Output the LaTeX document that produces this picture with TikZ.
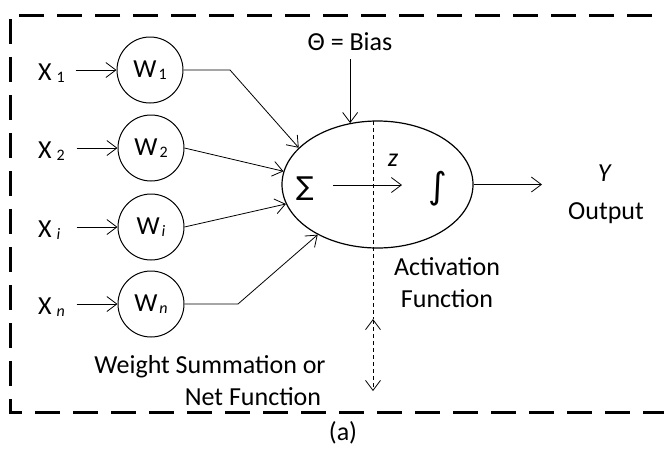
\documentclass[tikz,border=0pt]{standalone}
\usepackage{fontspec}
\setmainfont{Carlito}
\newfontfamily\symfont{DejaVu Sans}
\usetikzlibrary{arrows.meta,shapes.geometric,calc}
\newcommand{\sbs}[1]{\raisebox{-2.5pt}{\fontsize{16}{16}\selectfont #1}}
\begin{document}
\begin{tikzpicture}[x=1pt,y=-1pt,
  lbl/.style={inner sep=0pt, font=\fontsize{26}{30}\selectfont},
  wcirc/.style={circle, draw, line width=1pt, minimum size=66pt, inner sep=0pt, font=\fontsize{26}{30}\selectfont},
  conn/.style={line width=0.8pt, -{Straight Barb[length=10pt,width=15pt,line width=0.8pt]}},
  frame/.style={line width=3pt, dash pattern=on 25pt off 13pt},
  vdash/.style={line width=1pt, dash pattern=on 4pt off 3pt}]
\useasboundingbox (0,0) rectangle (664,448);
\clip (0,0) rectangle (664,448);
% frame
\draw[frame] (690,15) -- (10,15) -- (10,412) -- (690,412);
% weights
\node[wcirc] (w1) at (150,70) {W\hspace{2pt}\sbs{1}};
\node[wcirc] (w2) at (151,148) {W\hspace{2pt}\sbs{2}};
\node[wcirc] (wi) at (151,227) {W\hspace{2pt}\sbs{\textit{i}}};
\node[wcirc] (wn) at (151,304) {W\hspace{2pt}\sbs{\textit{n}}};
% inputs
\node[lbl, anchor=base west] (x1) at (38,80) {X\hspace{5pt}\sbs{1}};
\node[lbl, anchor=base west] (x2) at (38,158) {X\hspace{5pt}\sbs{2}};
\node[lbl, anchor=base west] (xi) at (38,237) {X\hspace{5pt}\sbs{\textit{i}}};
\node[lbl, anchor=base west] (xn) at (38,314) {X\hspace{5pt}\sbs{\textit{n}}};
\draw[conn] ($(w1.west)-(41,0)$) -- (w1.west);
\draw[conn] ($(w2.west)-(41,0)$) -- (w2.west);
\draw[conn] ($(wi.west)-(41,0)$) -- (wi.west);
\draw[conn] ($(wn.west)-(41,0)$) -- (wn.west);
% neuron
\node[ellipse, draw, line width=1.2pt, minimum width=191pt, minimum height=127pt, inner sep=0pt] (neu) at (377.5,184.5) {};
\coordinate (b1) at (230,70);
\coordinate (bn) at (238,304);
\draw[conn] (w1.east) -- (b1) -- (neu.155);
\draw[conn] (w2.east) -- (neu.172.5);
\draw[conn] (wi.east) -- (neu.192);
\draw[conn] (wn.east) -- (bn) -- (neu.220);
% bias
\node[lbl] (bias) at (350,42) {Θ = Bias};
\draw[conn] ($(neu.114.5)+(0,-64)$) -- (neu.114.5);
% dashed divider
\coordinate (dtop) at (373,121.1);
\coordinate (dmid) at (373,319);
\coordinate (dbot) at (373,391);
\draw[vdash] (dtop) -- (dmid);
\draw[vdash, {Straight Barb[length=10pt,width=15pt,line width=0.8pt]}-{Straight Barb[length=10pt,width=15pt,line width=0.8pt]}] (dmid) -- (dbot);
% inside
\node[inner sep=0pt, font=\symfont\fontsize{26}{30}\selectfont] (sig) at (305,189) {∑};
\node[inner sep=0pt, font=\symfont\fontsize{36}{40}\selectfont] (int) at (438,189) {∫};
\node[lbl] (z) at (393,160) {\textit{z}};
\coordinate (za) at (333,185);
\coordinate (zb) at (402,185);
\draw[conn] (za) -- (zb);
% output
\coordinate (yout) at (542,184.5);
\draw[conn] (neu.east) -- (yout);
\node[lbl] (y) at (605,173) {\textit{Y}};
\node[lbl] (out) at (606,213) {Output};
% labels
\node[lbl] (act) at (447,267) {Activation};
\node[lbl] (fun) at (447,299) {Function};
\node[lbl] (ws) at (210,367) {Weight Summation or};
\node[lbl] (nf) at (253,397) {Net Function};
\node[lbl] (cap) at (343,433) {(a)};
\end{tikzpicture}
\end{document}
